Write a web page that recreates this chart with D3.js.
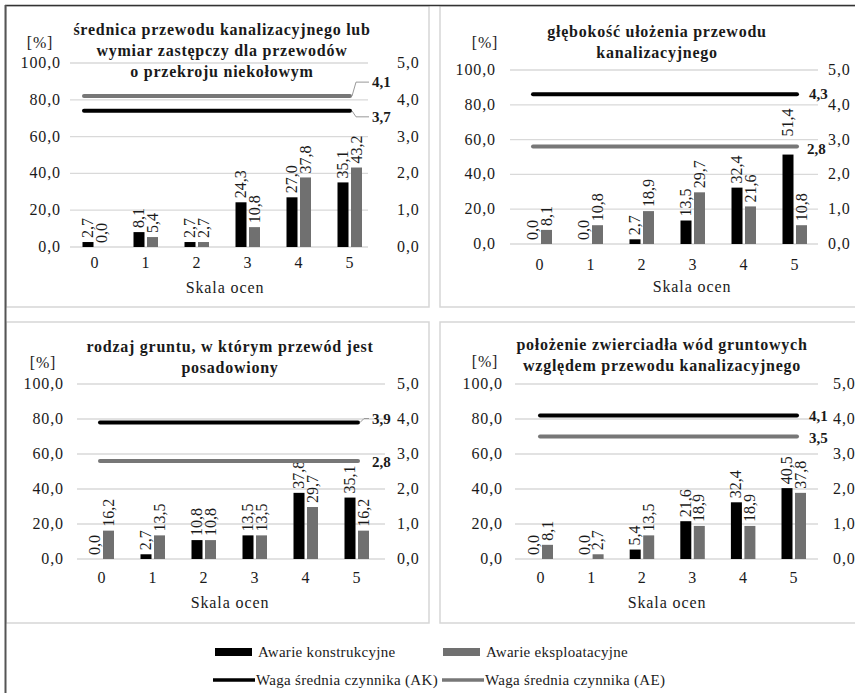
<html>
<head>
<meta charset="utf-8">
<title></title>
<style>
  body { margin: 0; background: white; }
  svg { display: block; background: white; }
  text { font-family: "Liberation Serif", "Times New Roman", serif; fill: #1a1a1a; }
  .tytul { font-weight: bold; font-size: 16px; letter-spacing: 0.75px; }
  .tick { font-size: 16px; letter-spacing: 0.9px; }
  .wartosc { font-size: 16px; }
  .srednia { font-size: 15px; font-weight: bold; }
  .legenda { font-size: 15px; letter-spacing: 0.3px; }
</style>
</head>
<body>
<div id="wykres"></div>
<script src="https://cdnjs.cloudflare.com/ajax/libs/d3/7.8.5/d3.min.js"></script>
<script>
// dane
var kategorie = [0, 1, 2, 3, 4, 5];
var tytuly = [
  ["średnica przewodu kanalizacyjnego lub", "wymiar zastępczy dla przewodów", "o przekroju niekołowym"],
  ["głębokość ułożenia przewodu", "kanalizacyjnego"],
  ["rodzaj gruntu, w którym przewód jest", "posadowiony"],
  ["położenie zwierciadła wód gruntowych", "względem przewodu kanalizacyjnego"]
];
var awarieKonstrukcyjne = [
  [2.7, 8.1, 2.7, 24.3, 27.0, 35.1],
  [0.0, 0.0, 2.7, 13.5, 32.4, 51.4],
  [0.0, 2.7, 10.8, 13.5, 37.8, 35.1],
  [0.0, 0.0, 5.4, 21.6, 32.4, 40.5]
];
var awarieEksploatacyjne = [
  [0.0, 5.4, 2.7, 10.8, 37.8, 43.2],
  [8.1, 10.8, 18.9, 29.7, 21.6, 10.8],
  [16.2, 13.5, 10.8, 13.5, 29.7, 16.2],
  [8.1, 2.7, 13.5, 18.9, 18.9, 37.8]
];
var wagaAK = [3.7, 4.3, 3.9, 4.1];
var wagaAE = [4.1, 2.8, 2.8, 3.5];
var tickiLewe = [0, 20, 40, 60, 80, 100];
var tickiPrawe = [0, 1, 2, 3, 4, 5];

var fmt = function(v, n) { return v.toFixed(n).replace(".", ","); };

// układ paneli (pozycje w pikselach)
var panele = [
  {box: [6, 6, 429, 307], grid: [70, 368], cat: [95, 350], linia: [84, 350], y: [247, 63],
   lewaX: 61, prawaX: 397, tytulX: 222, tytulY: 35, procent: [40, 48], catY: 268, osY: 293, osX: 225,
   dAK: [22, 6], dAE: [22, -14], leaderAK: true, leaderAE: true, przesun: []},
  {box: [440, 6, 870, 307], grid: [510, 818], cat: [540, 795], linia: [533, 797], y: [244, 70],
   lewaX: 496, prawaX: 828, tytulX: 657, tytulY: 37, procent: [485, 48], catY: 270, osY: 292, osX: 692,
   dAK: [12, 0], dAE: [10, 2], leaderAK: false, leaderAE: false, przesun: [[0, 5, -14]]},
  {box: [6, 322, 429, 623], grid: [77, 385], cat: [102, 357], linia: [100, 358], y: [559, 384],
   lewaX: 64, prawaX: 397, tytulX: 230, tytulY: 352, procent: [43, 368], catY: 583, osY: 608, osX: 230,
   dAK: [14, -4], dAE: [14, 1], leaderAK: true, leaderAE: false, przesun: []},
  {box: [440, 322, 870, 623], grid: [515, 818], cat: [541, 794], linia: [540, 797], y: [559, 384],
   lewaX: 503, prawaX: 833, tytulX: 662, tytulY: 350, procent: [485, 367], catY: 583, osY: 608, osX: 667,
   dAK: [12, 0], dAE: [12, 1], leaderAK: false, leaderAE: false, przesun: []}
];

var W = 855, H = 693;
var svg = d3.select("#wykres").append("svg").attr("width", W).attr("height", H);

// ramki paneli
panele.forEach(function(p) {
  svg.append("rect")
    .attr("x", p.box[0]).attr("y", p.box[1])
    .attr("width", p.box[2] - p.box[0]).attr("height", p.box[3] - p.box[1])
    .attr("fill", "none").attr("stroke", "#d6d6d6").attr("stroke-width", 1.5);
});
// zewnętrzna ramka (lewa i górna krawędź)
svg.append("line").attr("x1", 5).attr("x2", W).attr("y1", 5.5).attr("y2", 5.5)
  .attr("stroke", "#333").attr("stroke-width", 1.5);
svg.append("line").attr("x1", 5.5).attr("x2", 5.5).attr("y1", 5).attr("y2", H)
  .attr("stroke", "#555").attr("stroke-width", 2);

panele.forEach(function(p, i) {
  var g = svg.append("g");

  var x = d3.scalePoint().domain(kategorie).range(p.cat);
  var xLinia = d3.scalePoint().domain(kategorie).range(p.linia);
  var y = d3.scaleLinear().domain([0, 100]).range(p.y);
  var y2 = d3.scaleLinear().domain([0, 5]).range(p.y);

  // linie siatki
  g.selectAll(".siatka").data(tickiLewe).enter().append("line")
    .attr("x1", p.grid[0]).attr("x2", p.grid[1])
    .attr("y1", function(d) { return y(d); }).attr("y2", function(d) { return y(d); })
    .attr("stroke", "#d9d9d9").attr("stroke-width", 1.3);

  // oś lewa
  g.selectAll(".tl").data(tickiLewe).enter().append("text")
    .attr("class", "tick").attr("text-anchor", "end")
    .attr("x", p.lewaX).attr("y", function(d) { return y(d) + 5; })
    .text(function(d) { return fmt(d, 1); });
  // oś prawa
  g.selectAll(".tp").data(tickiPrawe).enter().append("text")
    .attr("class", "tick")
    .attr("x", p.prawaX).attr("y", function(d) { return y2(d) + 5; })
    .text(function(d) { return fmt(d, 1); });

  // kategorie
  g.selectAll(".kat").data(kategorie).enter().append("text")
    .attr("class", "tick").attr("text-anchor", "middle")
    .attr("x", function(d) { return x(d); }).attr("y", p.catY)
    .text(function(d) { return d; });
  g.append("text").attr("class", "tick").attr("text-anchor", "middle")
    .attr("x", p.osX).attr("y", p.osY).text("Skala ocen");
  g.append("text").attr("class", "tick").attr("text-anchor", "middle")
    .attr("x", p.procent[0]).attr("y", p.procent[1]).text("[%]");

  // tytuł
  tytuly[i].forEach(function(t, k) {
    g.append("text").attr("class", "tytul").attr("text-anchor", "middle")
      .attr("x", p.tytulX).attr("y", p.tytulY + k * 21).text(t);
  });

  // słupki
  var bw = 11;
  var serie = [
    {vals: awarieKonstrukcyjne[i], kolor: "#000", dx: -12.5},
    {vals: awarieEksploatacyjne[i], kolor: "#707070", dx: 1}
  ];
  serie.forEach(function(s, si) {
    g.selectAll(null).data(s.vals).enter().append("rect")
      .attr("x", function(d, j) { return x(kategorie[j]) + s.dx; })
      .attr("y", function(d) { return y(d); })
      .attr("width", bw)
      .attr("height", function(d) { return y(0) - y(d); })
      .attr("fill", s.kolor);
    g.selectAll(null).data(s.vals).enter().append("text")
      .attr("class", "wartosc")
      .attr("transform", function(d, j) {
        var dy = 0;
        p.przesun.forEach(function(q) { if (q[0] === si && q[1] === j) dy = q[2]; });
        return "translate(" + (x(kategorie[j]) + s.dx + bw / 2 + 5) + "," + (y(d) - 4 + dy) + ") rotate(-90)";
      })
      .text(function(d) { return fmt(d, 1); });
  });

  // linie średnich wag
  var linie = [
    {v: wagaAK[i], kolor: "#000", d: p.dAK, leader: p.leaderAK},
    {v: wagaAE[i], kolor: "#777", d: p.dAE, leader: p.leaderAE}
  ];
  linie.forEach(function(l) {
    var pts = kategorie.map(function(c) { return [xLinia(c), y2(l.v)]; });
    g.append("path").attr("d", d3.line()(pts))
      .attr("fill", "none").attr("stroke", l.kolor).attr("stroke-width", 4)
      .attr("stroke-linecap", "round");
    var ex = p.linia[1], ey = y2(l.v);
    var tx = ex + l.d[0], ty = ey + l.d[1];
    if (l.leader) {
      g.append("path")
        .attr("d", "M" + (ex + 2) + "," + ey + "L" + (ex + 6) + "," + (ty) + "L" + (tx - 3) + "," + (ty))
        .attr("fill", "none").attr("stroke", "#999").attr("stroke-width", 1);
    }
    g.append("text").attr("class", "srednia")
      .attr("x", tx).attr("y", ty + 5).text(fmt(l.v, 1));
  });
});

// legenda
var legenda = [
  {typ: "rect", kolor: "#000", tekst: "Awarie konstrukcyjne", x: 215, y: 652},
  {typ: "rect", kolor: "#707070", tekst: "Awarie eksploatacyjne", x: 443, y: 652},
  {typ: "line", kolor: "#000", tekst: "Waga średnia czynnika (AK)", x: 213, y: 680},
  {typ: "line", kolor: "#777", tekst: "Waga średnia czynnika (AE)", x: 442, y: 680}
];
var lg = svg.append("g");
legenda.forEach(function(l) {
  if (l.typ === "rect") {
    lg.append("rect").attr("x", l.x).attr("y", l.y - 4).attr("width", 37).attr("height", 8).attr("fill", l.kolor);
  } else {
    lg.append("line").attr("x1", l.x).attr("x2", l.x + 42).attr("y1", l.y).attr("y2", l.y)
      .attr("stroke", l.kolor).attr("stroke-width", 3.5);
  }
  lg.append("text").attr("class", "legenda").attr("x", l.x + 43).attr("y", l.y + 5).text(l.tekst);
});
</script>
</body>
</html>
